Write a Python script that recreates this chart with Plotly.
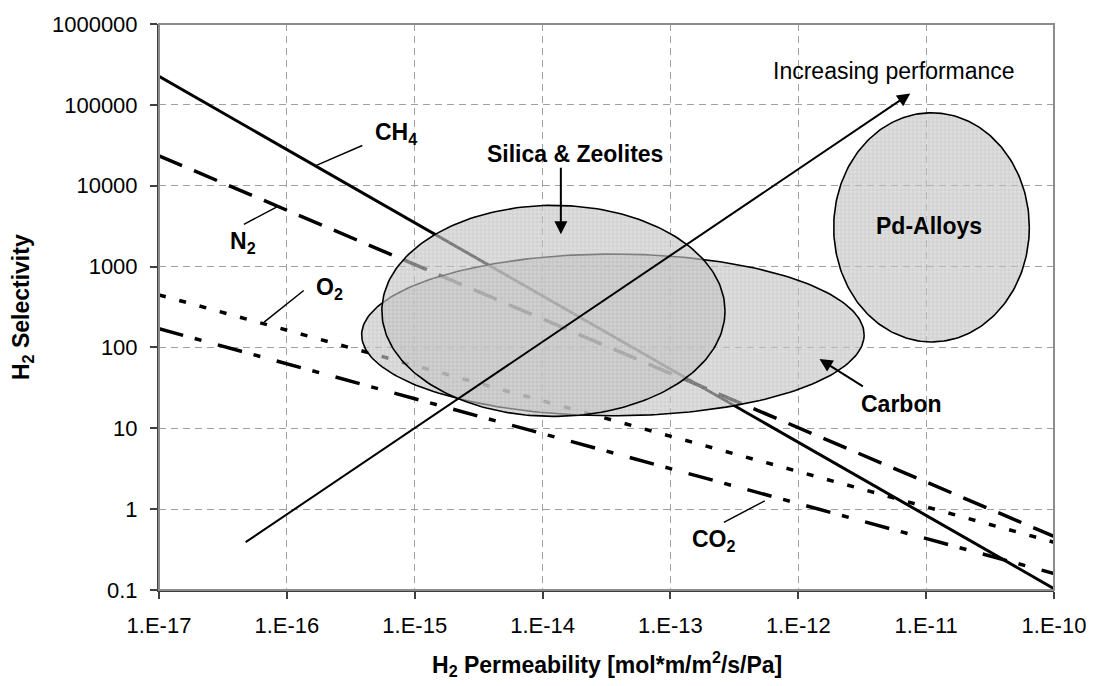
import numpy as np
import plotly.graph_objects as go

# ---------------- data ----------------
# H2 permeability range spanned by the trade-off lines [mol*m/m2/s/Pa]
perm_ends = [1e-17, 1e-10]
# H2 selectivity at the two ends of each trade-off line
ch4_sel = [2.25e5, 0.104]
n2_sel = [2.34e4, 0.46]
o2_sel = [447, 0.39]
co2_sel = [170, 0.16]

# material regions as ellipses in log10 space
region_names = ["Carbon", "Silica & Zeolites", "Pd-Alloys"]
region_cx = [-13.45, -13.915, -10.958]   # log10 permeability of centre
region_cy = [2.155, 2.452, 3.485]        # log10 selectivity of centre
region_rx = [1.965, 1.342, 0.765]        # half width (decades)
region_ry = [1.0, 1.305, 1.417]          # half height (decades)

x_tickvals = [1e-17, 1e-16, 1e-15, 1e-14, 1e-13, 1e-12, 1e-11, 1e-10]
x_ticktext = ["1.E-17", "1.E-16", "1.E-15", "1.E-14", "1.E-13", "1.E-12", "1.E-11", "1.E-10"]
y_tickvals = [0.1, 1, 10, 100, 1000, 10000, 100000, 1000000]
y_ticktext = ["0.1", "1", "10", "100", "1000", "10000", "100000", "1000000"]

# annotation positions (log10 x, log10 y)
label_text = ["CH<sub>4</sub>", "N<sub>2</sub>", "O<sub>2</sub>", "CO<sub>2</sub>",
              "Silica & Zeolites", "Carbon", "Pd-Alloys"]
label_lx = [-15.15, -16.344, -15.665, -12.66, -13.746, -11.196, -10.981]
label_ly = [4.649, 3.297, 2.732, -0.388, 4.391, 1.301, 3.502]

# leader lines from labels to curves (log10 coords): x1, y1, x2, y2
leader_x1 = [-15.410, -16.336, -15.868, -12.582]
leader_y1 = [4.498, 3.522, 2.704, -0.163]
leader_x2 = [-15.769, -16.081, -16.178, -12.262]
leader_y2 = [4.252, 3.736, 2.314, 0.103]

# arrows (log10 coords): tail x, tail y, head x, head y
arrow_tx = [-13.857, -11.483, -16.334]
arrow_ty = [4.240, 1.507, -0.421]
arrow_hx = [-13.857, -11.834, -11.124]
arrow_hy = [3.399, 1.856, 5.140]

perf_text = "Increasing performance"
perf_lx, perf_ly = -11.254, 5.423

FONT = "Liberation Sans, Arial, sans-serif"

fig = go.Figure()

line_styles = [
    (ch4_sel, "solid", 3),
    (n2_sel, "25px,13px", 3.5),
    (o2_sel, "7px,14px", 3.5),
    (co2_sel, "25px,12px,7px,17px", 3.5),
]
for sel, dash, w in line_styles:
    fig.add_trace(go.Scatter(x=perm_ends, y=sel, mode="lines",
                             line=dict(color="black", width=w, dash=dash),
                             hoverinfo="skip", showlegend=False))

t = np.linspace(0, 2 * np.pi, 240)
for name, cx, cy, rx, ry in zip(region_names, region_cx, region_cy, region_rx, region_ry):
    ex = 10 ** (cx + rx * np.cos(t))
    ey = 10 ** (cy + ry * np.sin(t))
    fig.add_trace(go.Scatter(
        x=ex, y=ey, mode="lines", fill="toself",
        fillcolor="rgba(200,200,200,0.6)",
        fillpattern=dict(shape="+", bgcolor="rgba(200,200,200,0.6)",
                         fgcolor="#a8a8a8", fgopacity=0.45, size=4, solidity=0.25),
        line=dict(color="black", width=1.6),
        hoverinfo="skip", showlegend=False, name=name))

for x1, y1, x2, y2 in zip(leader_x1, leader_y1, leader_x2, leader_y2):
    fig.add_trace(go.Scatter(x=[10 ** x1, 10 ** x2], y=[10 ** y1, 10 ** y2], mode="lines",
                             line=dict(color="black", width=1.5),
                             hoverinfo="skip", showlegend=False))

annotations = []
for txt, lx, ly in zip(label_text, label_lx, label_ly):
    annotations.append(dict(x=lx, y=ly, xref="x", yref="y", text="<b>" + txt + "</b>",
                            xanchor="center", yanchor="middle",
                            showarrow=False, font=dict(family=FONT, size=23, color="black")))
annotations.append(dict(x=perf_lx, y=perf_ly, xref="x", yref="y", text=perf_text,
                        xanchor="center", yanchor="middle",
                        showarrow=False, font=dict(family=FONT, size=23, color="black")))
for tx, ty, hx, hy in zip(arrow_tx, arrow_ty, arrow_hx, arrow_hy):
    annotations.append(dict(x=hx, y=hy, ax=tx, ay=ty, xref="x", yref="y", axref="x", ayref="y",
                            text="", showarrow=True, arrowhead=2, arrowsize=1.3, arrowwidth=2,
                            arrowcolor="black"))
annotations.append(dict(x=0.5, y=-0.13, xref="paper", yref="paper",
                        xanchor="center", yanchor="middle",
                        text="<b>H<sub>2</sub> Permeability [mol*m/m<sup>2</sup>/s/Pa]</b>",
                        showarrow=False, font=dict(family=FONT, size=23, color="black")))
annotations.append(dict(x=-0.153, y=0.5, xref="paper", yref="paper", textangle=-90,
                        xanchor="center", yanchor="middle",
                        text="<b>H<sub>2</sub> Selectivity</b>",
                        showarrow=False, font=dict(family=FONT, size=23, color="black")))

fig.update_layout(
    width=1098, height=686,
    margin=dict(l=159, r=41, t=20, b=96),
    paper_bgcolor="white", plot_bgcolor="white",
    font=dict(family=FONT, size=22, color="black"),
    showlegend=False,
    annotations=annotations,
    shapes=[dict(type="rect", xref="paper", yref="paper", x0=0, x1=1, y0=0, y1=1,
                 line=dict(color="#8c8c8c", width=2), layer="above")],
)
fig.update_xaxes(type="log", range=[-17, -10], tickvals=x_tickvals, ticktext=x_ticktext,
                 showgrid=True, gridcolor="#a0a0a0", gridwidth=1, griddash="7px,5px",
                 showline=True, linecolor="#404040", linewidth=2,
                 ticks="outside", ticklen=7, tickwidth=1.5, tickcolor="#404040",
                 ticklabelstandoff=8, zeroline=False,
                 tickfont=dict(family=FONT, size=22, color="black"))
fig.update_yaxes(type="log", range=[-1, 6], tickvals=y_tickvals, ticktext=y_ticktext,
                 showgrid=True, gridcolor="#a0a0a0", gridwidth=1, griddash="7px,5px",
                 showline=True, linecolor="#404040", linewidth=2,
                 ticks="outside", ticklen=7, tickwidth=1.5, tickcolor="#404040",
                 ticklabelstandoff=8, zeroline=False,
                 tickfont=dict(family=FONT, size=22, color="black"))

fig.write_html("out.html")
